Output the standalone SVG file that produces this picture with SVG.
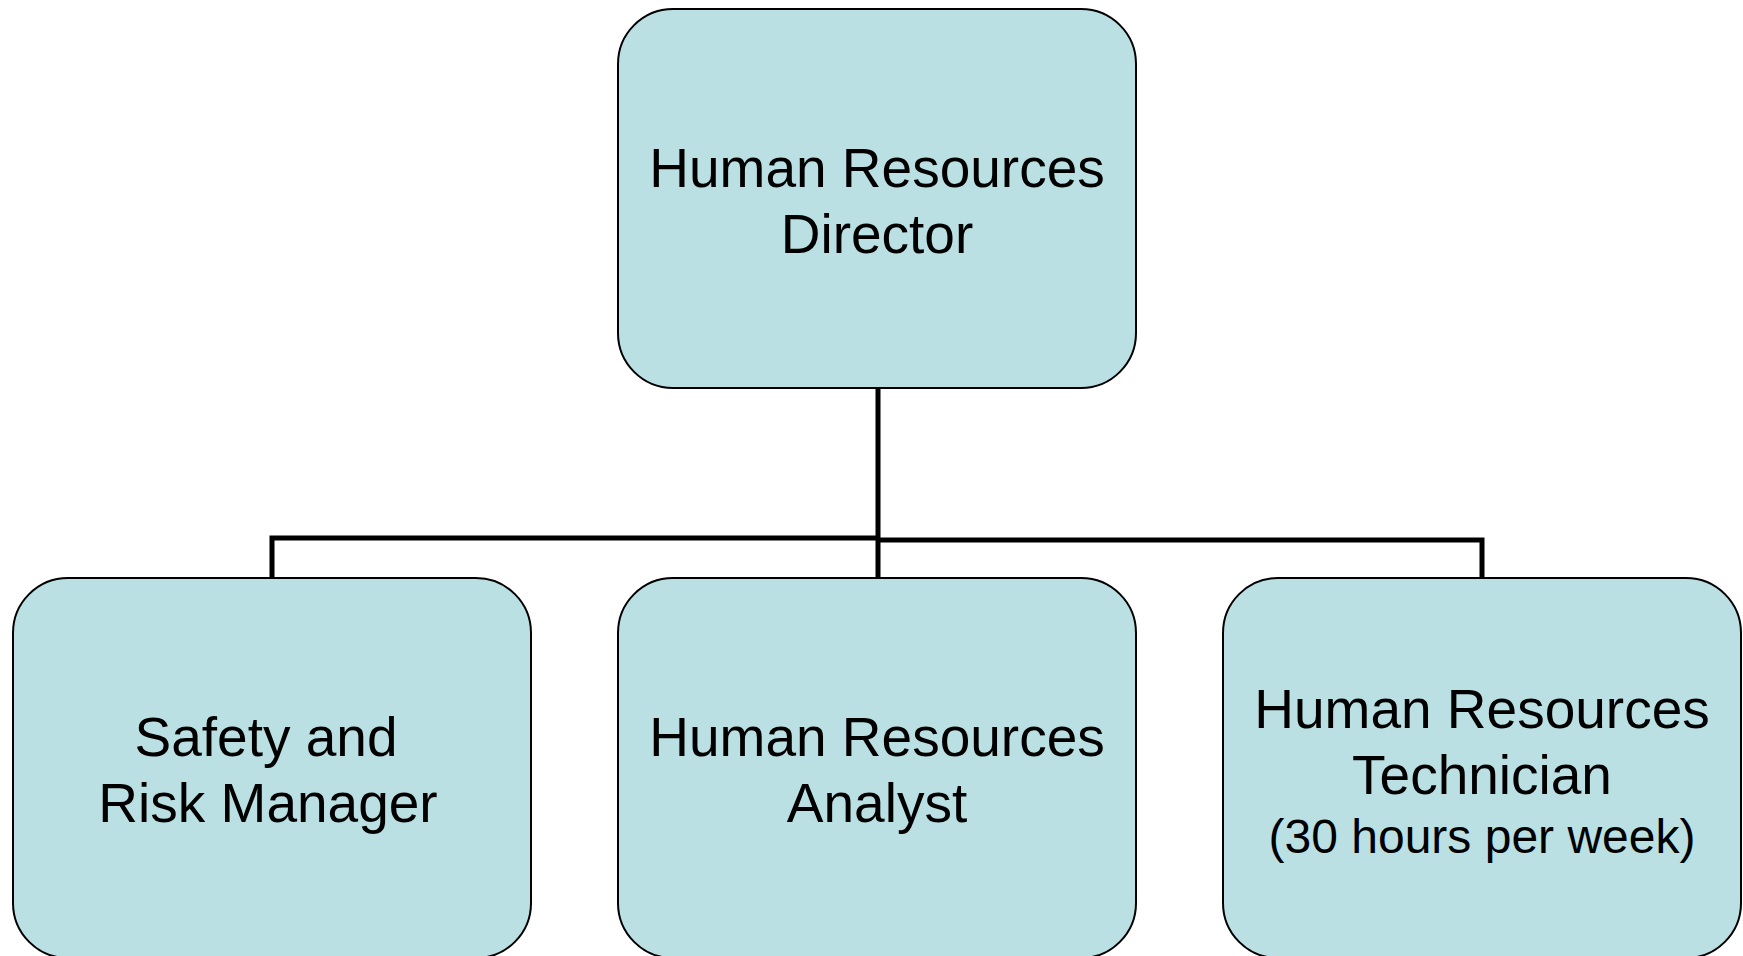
<svg xmlns="http://www.w3.org/2000/svg" width="1743" height="956" viewBox="0 0 1743 956">
<style>
.box{fill:#bae0e3;stroke:#000;stroke-width:2}
.t{font-family:"Liberation Sans",Arial,sans-serif;font-size:55px;fill:#000;text-anchor:middle}
.s{font-size:48px}
.c{fill:none;stroke:#000;stroke-width:5}
</style>
<rect width="1743" height="956" fill="#fff"/>
<g id="connectors">
<path class="c" d="M878 388 V538 M272 578 V538 H878 M878 538 V578 M878 540 H1482 V578"/>
</g>
<g id="director">
<rect class="box" x="618" y="9" width="518" height="379" rx="55"/>
<text class="t" x="877" y="187">Human Resources</text>
<text class="t" x="877" y="253">Director</text>
</g>
<g id="safety">
<rect class="box" x="13" y="578" width="518" height="380" rx="55"/>
<text class="t" x="266" y="756">Safety and</text>
<text class="t" x="268" y="822">Risk Manager</text>
</g>
<g id="analyst">
<rect class="box" x="618" y="578" width="518" height="380" rx="55"/>
<text class="t" x="877" y="756">Human Resources</text>
<text class="t" x="877" y="822">Analyst</text>
</g>
<g id="technician">
<rect class="box" x="1223" y="578" width="518" height="380" rx="55"/>
<text class="t" x="1482" y="728">Human Resources</text>
<text class="t" x="1482" y="794">Technician</text>
<text class="t s" x="1482" y="853">(30 hours per week)</text>
</g>
</svg>
